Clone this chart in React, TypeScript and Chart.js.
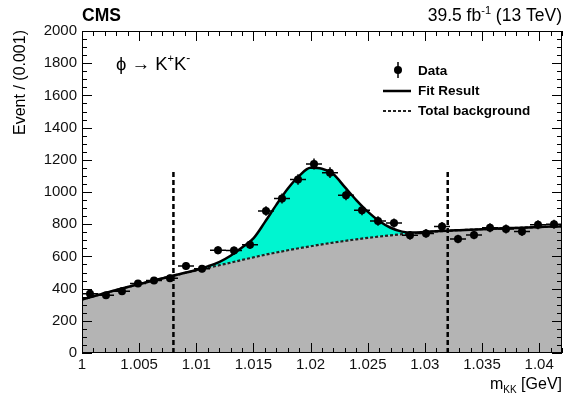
import { useEffect, useRef } from 'react';
import { Chart, registerables } from 'chart.js';

Chart.register(...registerables);

// ---- Data ----
const binCenters = [
  1.0007, 1.0021, 1.0035, 1.0049, 1.0063, 1.0077, 1.0091, 1.0105, 1.0119, 1.0133,
  1.0147, 1.0161, 1.0175, 1.0189, 1.0203, 1.0217, 1.0231, 1.0245, 1.0259, 1.0273,
  1.0287, 1.0301, 1.0315, 1.0329, 1.0343, 1.0357, 1.0371, 1.0385, 1.0399, 1.0413,
];
const eventCounts = [
  368, 358, 383, 432, 451, 465, 540, 524, 638, 636,
  672, 882, 959, 1078, 1174, 1120, 980, 886, 820, 807,
  731, 743, 785, 708, 733, 778, 770, 754, 797, 799,
];
const countErrors = [
  19, 19, 20, 21, 21, 22, 23, 23, 25, 25,
  26, 30, 31, 33, 34, 33, 31, 30, 29, 28,
  27, 27, 28, 27, 27, 28, 28, 27, 28, 28,
];
const binHalfWidth = 0.0007;

const fitMass = [
  1.000, 1.001, 1.002, 1.003, 1.004, 1.005, 1.006, 1.007, 1.008, 1.009,
  1.010, 1.011, 1.012, 1.013, 1.014, 1.015, 1.016, 1.017, 1.018, 1.019,
  1.020, 1.021, 1.022, 1.023, 1.024, 1.025, 1.026, 1.027, 1.028, 1.029,
  1.030, 1.031, 1.032, 1.033, 1.034, 1.035, 1.036, 1.037, 1.038, 1.039,
  1.040, 1.041, 1.042,
];
const fitTotal = [
  332, 352, 372, 391, 410, 428, 446, 463, 481, 498,
  516, 538, 565, 604, 655, 712, 813, 920, 1020, 1100,
  1150, 1145, 1110, 1030, 950, 878, 820, 778, 754, 748,
  752, 756, 760, 763, 766, 769, 772, 775, 777, 780,
  782, 785, 787,
];
const fitBackground = [
  332, 352, 372, 391, 410, 428, 446, 463, 480, 497,
  513, 529, 545, 561, 578, 594, 610, 624, 638, 651,
  663, 675, 686, 696, 706, 715, 723, 731, 738, 744,
  750, 755, 759, 763, 766, 769, 772, 775, 777, 780,
  782, 785, 787,
];
const cutMass = [1.008, 1.032];
const cutTop = 1135;

const FAMILY = "'Liberation Sans', Arial, Helvetica, sans-serif";

type Seg = { t: string; size: number; bold?: boolean; dy?: number };

function drawSegs(ctx: CanvasRenderingContext2D, segs: Seg[], x: number, y: number, align: 'left' | 'right') {
  const fontOf = (s: Seg) => `${s.bold ? 'bold ' : ''}${s.size}px ${FAMILY}`;
  let w = 0;
  for (const s of segs) {
    ctx.font = fontOf(s);
    w += ctx.measureText(s.t).width;
  }
  let cx = align === 'right' ? x - w : x;
  ctx.textAlign = 'left';
  ctx.textBaseline = 'alphabetic';
  for (const s of segs) {
    ctx.font = fontOf(s);
    ctx.fillText(s.t, cx, y + (s.dy || 0));
    cx += ctx.measureText(s.t).width;
  }
}

const rootStyle = {
  id: 'rootStyle',
  afterDatasetsDraw(chart: any) {
    const { ctx, scales } = chart;
    const x = scales.x;
    const y = scales.y;
    ctx.save();
    ctx.strokeStyle = '#000';
    ctx.lineWidth = 1.5;
    for (let i = 0; i < binCenters.length; i++) {
      const px = x.getPixelForValue(binCenters[i]);
      const py = y.getPixelForValue(eventCounts[i]);
      const x0 = x.getPixelForValue(binCenters[i] - binHalfWidth);
      const x1 = x.getPixelForValue(binCenters[i] + binHalfWidth);
      const y0 = y.getPixelForValue(eventCounts[i] - countErrors[i]);
      const y1 = y.getPixelForValue(eventCounts[i] + countErrors[i]);
      ctx.beginPath();
      ctx.moveTo(x0, py);
      ctx.lineTo(x1, py);
      ctx.moveTo(px, y0);
      ctx.lineTo(px, y1);
      ctx.stroke();
    }
    ctx.restore();
  },
  afterDraw(chart: any) {
    const { ctx, chartArea: a, scales } = chart;
    const x = scales.x;
    const y = scales.y;
    ctx.save();
    // frame
    ctx.strokeStyle = '#000';
    ctx.lineWidth = 1;
    ctx.strokeRect(a.left + 0.5, a.top + 0.5, a.right - a.left - 1, a.bottom - a.top - 1);
    // x ticks (major 0.005, minor 0.001)
    ctx.beginPath();
    for (let k = 0; k <= 42; k++) {
      const px = Math.round(x.getPixelForValue(1 + k * 0.001)) + 0.5;
      const len = k % 5 === 0 ? 10 : 5;
      ctx.moveTo(px, a.bottom);
      ctx.lineTo(px, a.bottom - len);
      ctx.moveTo(px, a.top);
      ctx.lineTo(px, a.top + len);
    }
    // y ticks (major 200, minor 50)
    for (let k = 0; k <= 40; k++) {
      const py = Math.round(y.getPixelForValue(k * 50)) + 0.5;
      const len = k % 4 === 0 ? 10 : 5;
      ctx.moveTo(a.left, py);
      ctx.lineTo(a.left + len, py);
      ctx.moveTo(a.right, py);
      ctx.lineTo(a.right - len, py);
    }
    ctx.stroke();

    ctx.fillStyle = '#000';
    // header
    drawSegs(ctx, [{ t: 'CMS', size: 17.5, bold: true }], a.left, 21, 'left');
    drawSegs(
      ctx,
      [
        { t: '39.5 fb', size: 17.5 },
        { t: '-1', size: 11, dy: -7 },
        { t: ' (13 TeV)', size: 17.5 },
      ],
      a.right,
      21,
      'right'
    );
    // process label
    drawSegs(
      ctx,
      [
        { t: 'ϕ → K', size: 18.5 },
        { t: '+', size: 11, dy: -8 },
        { t: 'K', size: 18.5 },
        { t: '-', size: 12, dy: -8 },
      ],
      116,
      70,
      'left'
    );
    // x title
    drawSegs(
      ctx,
      [
        { t: 'm', size: 16 },
        { t: 'KK', size: 10, dy: 4 },
        { t: ' [GeV]', size: 16 },
      ],
      a.right,
      389,
      'right'
    );
    // y title
    ctx.save();
    ctx.translate(21, a.top - 1);
    ctx.rotate(-Math.PI / 2);
    ctx.font = `16px ${FAMILY}`;
    ctx.textAlign = 'right';
    ctx.textBaseline = 'middle';
    ctx.fillText('Event / (0.001)', 0, 0);
    ctx.restore();

    // legend
    ctx.beginPath();
    ctx.arc(398, 70, 4, 0, Math.PI * 2);
    ctx.fill();
    ctx.lineWidth = 1.5;
    ctx.beginPath();
    ctx.moveTo(398, 62);
    ctx.lineTo(398, 78);
    ctx.stroke();
    ctx.lineWidth = 2.5;
    ctx.beginPath();
    ctx.moveTo(383, 91);
    ctx.lineTo(411, 91);
    ctx.stroke();
    ctx.strokeStyle = '#222';
    ctx.lineWidth = 2.2;
    ctx.setLineDash([3, 2]);
    ctx.beginPath();
    ctx.moveTo(383, 111);
    ctx.lineTo(411, 111);
    ctx.stroke();
    ctx.setLineDash([]);
    ctx.font = `bold 13.5px ${FAMILY}`;
    ctx.textAlign = 'left';
    ctx.textBaseline = 'middle';
    ctx.fillText('Data', 418, 71);
    ctx.fillText('Fit Result', 418, 91);
    ctx.fillText('Total background', 418, 111);
    ctx.restore();
  },
};

export default function App() {
  const ref = useRef<HTMLCanvasElement | null>(null);

  useEffect(() => {
    document.body.style.margin = '0';
    const canvas = ref.current;
    if (!canvas) return;
    const tickFont = { family: FAMILY, size: 15 };
    const chart = new Chart(canvas, {
      type: 'scatter',
      data: {
        datasets: [
          {
            label: 'Total background',
            data: fitMass.map((m, i) => ({ x: m, y: fitBackground[i] })),
            showLine: true,
            borderColor: '#222',
            borderWidth: 2.2,
            borderDash: [3, 2],
            pointRadius: 0,
            fill: 'origin',
            backgroundColor: '#b4b4b4',
            cubicInterpolationMode: 'monotone',
            order: 3,
          },
          {
            label: 'Fit Result',
            data: fitMass.map((m, i) => ({ x: m, y: fitTotal[i] })),
            showLine: true,
            borderColor: '#000',
            borderWidth: 2.5,
            pointRadius: 0,
            fill: { target: 0 },
            backgroundColor: '#00f5d0',
            cubicInterpolationMode: 'monotone',
            order: 2,
          },
          {
            label: 'cut low',
            data: [
              { x: cutMass[0], y: 0 },
              { x: cutMass[0], y: cutTop },
            ],
            showLine: true,
            borderColor: '#000',
            borderWidth: 2.5,
            borderDash: [5, 3],
            pointRadius: 0,
            fill: false,
            order: 1,
          },
          {
            label: 'cut high',
            data: [
              { x: cutMass[1], y: 0 },
              { x: cutMass[1], y: cutTop },
            ],
            showLine: true,
            borderColor: '#000',
            borderWidth: 2.5,
            borderDash: [5, 3],
            pointRadius: 0,
            fill: false,
            order: 1,
          },
          {
            label: 'Data',
            data: binCenters.map((m, i) => ({ x: m, y: eventCounts[i] })),
            showLine: false,
            pointRadius: 4,
            pointBackgroundColor: '#000',
            pointBorderWidth: 0,
            order: 0,
          },
        ],
      } as any,
      options: {
        responsive: false,
        animation: false,
        events: [],
        layout: { padding: { top: 31, right: 3, left: 0, bottom: 0 } },
        plugins: {
          legend: { display: false },
          tooltip: { enabled: false },
          filler: { drawTime: 'beforeDatasetsDraw' },
        } as any,
        scales: {
          x: {
            type: 'linear',
            min: 1,
            max: 1.042,
            afterFit: (s: any) => {
              s.height = 50;
            },
            grid: { display: false, drawTicks: false },
            border: { display: false },
            ticks: {
              stepSize: 0.005,
              includeBounds: false,
              autoSkip: false,
              maxRotation: 0,
              padding: 3,
              color: '#111',
              font: tickFont,
              callback: (v: any) => Number(v).toFixed(3).replace(/0+$/, '').replace(/\.$/, ''),
            },
          },
          y: {
            type: 'linear',
            min: 0,
            max: 2000,
            afterFit: (s: any) => {
              s.width = 82;
            },
            grid: { display: false, drawTicks: false },
            border: { display: false },
            ticks: {
              stepSize: 200,
              padding: 5,
              color: '#111',
              font: tickFont,
              callback: (v: any) => String(Math.round(Number(v))),
            },
          },
        },
      } as any,
      plugins: [rootStyle],
    });
    return () => chart.destroy();
  }, []);

  return (
    <div style={{ width: 566, height: 403 }}>
      <canvas ref={ref} width={566} height={403} style={{ display: 'block' }} />
    </div>
  );
}
